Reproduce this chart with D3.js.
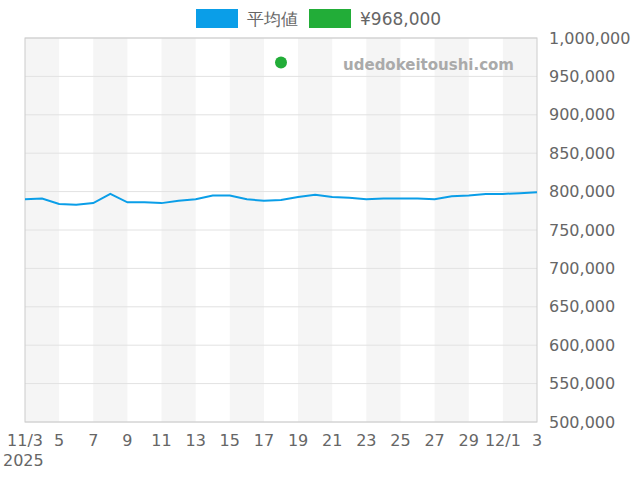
<!DOCTYPE html>
<html><head><meta charset="utf-8">
<script src="https://cdn.jsdelivr.net/npm/d3@7"></script>
<style>body{margin:0;background:#fff}text{font-family:"DejaVu Sans",sans-serif}</style>
</head><body><svg id="c" width="640" height="480"></svg>
<script>
const avgValues = [790,791,784,783,785,797,786,786,785,788,790,795,795,790,788,789,793,796,793,792,790,791,791,791,790,794,795,797,797,798,799];
const pointDate = new Date(2025,10,18);
const pointValue = 968000;
const yTicks = [500000,550000,600000,650000,700000,750000,800000,850000,900000,950000,1000000];
const legendLabels = ['平均値','¥968,000'];

const start = new Date(2025,10,3);
const dates = avgValues.map((v,i)=>d3.timeDay.offset(start,i));
const svg = d3.select('#c');
const L=25,R=537,T=38,B=422;
const x = d3.scaleTime().domain([start,dates[dates.length-1]]).range([L,R]);
const y = d3.scaleLinear().domain([500000,1000000]).range([B,T]);

// stripes every 2 days
for(let i=0;i<30;i+=4){
  svg.append('rect').attr('x',x(dates[i])).attr('y',T)
    .attr('width',x(dates[Math.min(i+2,30)])-x(dates[i])).attr('height',B-T).attr('fill','#f5f5f5');
}
yTicks.forEach(t=>{
  svg.append('line').attr('x1',L).attr('x2',R).attr('y1',y(t)).attr('y2',y(t)).attr('stroke','#e2e2e2');
  svg.append('text').attr('x',R+12).attr('y',y(t)).attr('dy','0.35em').attr('font-size',16).attr('fill','#666').text(d3.format(',')(t));
});
svg.append('rect').attr('x',L).attr('y',T).attr('width',R-L).attr('height',B-T).attr('fill','none').attr('stroke','#ccc');

for(let i=0;i<=30;i+=2){
  const d=dates[i];
  let lab = d.getDate()===1||i===0 ? (d.getMonth()+1)+'/'+d.getDate() : ''+d.getDate();
  svg.append('text').attr('x',x(d)).attr('y',B+24).attr('text-anchor','middle').attr('font-size',16).attr('fill','#666').text(lab);
}
svg.append('text').attr('x',3).attr('y',B+44).attr('font-size',16).attr('fill','#666').text('2025');

svg.append('path').datum(avgValues).attr('fill','none').attr('stroke','#0a9ee8').attr('stroke-width',2)
  .attr('d',d3.line().x((v,i)=>x(dates[i])).y(v=>y(v*1000)));
svg.append('circle').attr('cx',x(pointDate)).attr('cy',y(pointValue)).attr('r',6).attr('fill','#22ad38');

svg.append('text').attr('x',514).attr('y',70).attr('text-anchor','end').attr('font-size',15).attr('font-weight','bold').attr('fill','#aaa').text('udedokeitoushi.com');

const lg=[{c:'#0a9ee8',x:196},{c:'#22ad38',x:309}];
lg.forEach((g,i)=>{
  svg.append('rect').attr('x',g.x).attr('y',9).attr('width',42).attr('height',19).attr('fill',g.c);
  svg.append('text').attr('x',g.x+51).attr('y',25).attr('font-size',17).attr('fill','#666').text(legendLabels[i]);
});
</script></body></html>
